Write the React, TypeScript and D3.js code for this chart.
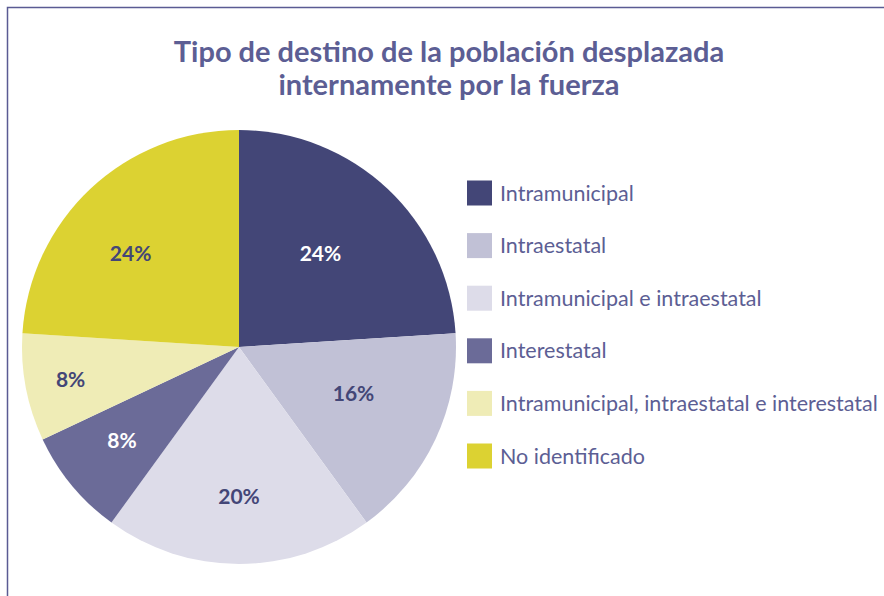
import React, { useEffect, useRef } from 'react';
import * as d3 from 'd3';

const categories = [
  'Intramunicipal',
  'Intraestatal',
  'Intramunicipal e intraestatal',
  'Interestatal',
  'Intramunicipal, intraestatal e interestatal',
  'No identificado',
];
const values = [24, 16, 20, 8, 8, 24];
const colors = ['#434677', '#c1c1d6', '#dddce9', '#6b6b98', '#efecb6', '#dcd232'];
const labelColors = ['#ffffff', '#434677', '#434677', '#ffffff', '#434677', '#434677'];
const titleLines = ['Tipo de destino de la población desplazada', 'internamente por la fuerza'];

// label placement: share of radius and angle shift (degrees)
const labelRadius = [0.57, 0.57, 0.69, 0.69, 0.79, 0.66];
const labelShift = [-2, -3, 0, 1, 0, -6];

const width = 884;
const height = 596;
const font = 'Lato, "Open Sans", sans-serif';
const textColor = '#5c5e94';

export default function App() {
  const svgRef = useRef<SVGSVGElement>(null);

  useEffect(() => {
    if (!svgRef.current) return;
    const svg = d3.select(svgRef.current);
    svg.selectAll('*').remove();

    // frame
    svg.append('path')
      .attr('d', `M7.5,${height + 5} V7.5 H${width + 5}`)
      .attr('fill', 'none')
      .attr('stroke', '#5a5b93')
      .attr('stroke-width', 1.5);

    // title
    svg.append('g')
      .selectAll('text')
      .data(titleLines)
      .enter()
      .append('text')
      .attr('x', 449)
      .attr('y', (_, i) => 62 + i * 33)
      .attr('text-anchor', 'middle')
      .attr('font-family', font)
      .attr('font-weight', 'bold')
      .attr('font-size', '29px')
      .attr('fill', textColor)
      .text((d) => d);

    const cx = 239;
    const cy = 347;
    const r = 217;

    const pie = d3.pie<number>().sort(null).value((d) => d);
    const arcs = pie(values);
    const arc = d3.arc<d3.PieArcDatum<number>>().innerRadius(0).outerRadius(r);

    const g = svg.append('g').attr('transform', `translate(${cx},${cy})`);

    g.selectAll('path')
      .data(arcs)
      .enter()
      .append('path')
      .attr('d', arc)
      .attr('fill', (_, i) => colors[i]);

    g.selectAll('text')
      .data(arcs)
      .enter()
      .append('text')
      .attr('transform', (d, i) => {
        const a = (d.startAngle + d.endAngle) / 2 + (labelShift[i] * Math.PI) / 180;
        const rr = r * labelRadius[i];
        return `translate(${Math.sin(a) * rr},${-Math.cos(a) * rr})`;
      })
      .attr('text-anchor', 'middle')
      .attr('dy', '0.36em')
      .attr('font-family', font)
      .attr('font-weight', 'bold')
      .attr('font-size', '21px')
      .attr('fill', (_, i) => labelColors[i])
      .text((d) => `${d.data}%`);

    // legend
    const legendY = d3.scalePoint<string>().domain(categories).range([193, 456]);
    const legend = svg.append('g')
      .selectAll('g')
      .data(categories)
      .enter()
      .append('g')
      .attr('transform', (d) => `translate(467,${legendY(d)})`);

    legend.append('rect')
      .attr('x', 0)
      .attr('y', -12.5)
      .attr('width', 25)
      .attr('height', 25)
      .attr('fill', (_, i) => colors[i]);

    legend.append('text')
      .attr('x', 33)
      .attr('dy', '0.35em')
      .attr('font-family', font)
      .attr('font-size', '21.5px')
      .attr('fill', textColor)
      .text((d) => d);
  }, []);

  return (
    <svg
      ref={svgRef}
      width={width}
      height={height}
      style={{ position: 'absolute', left: 0, top: 0, background: '#fff' }}
    />
  );
}
